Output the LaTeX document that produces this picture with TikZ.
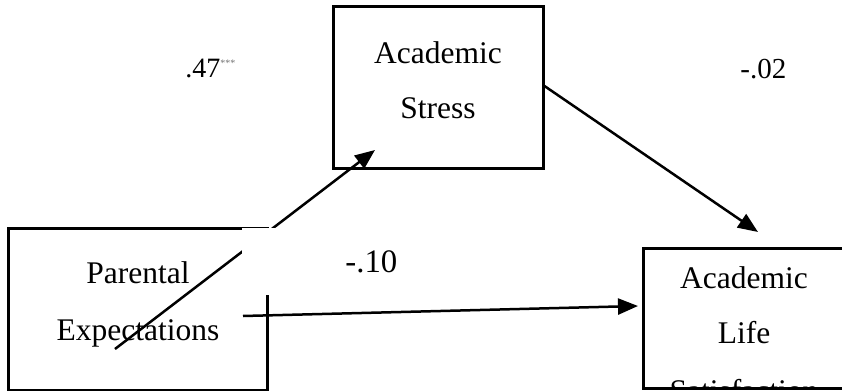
\documentclass[tikz,border=0pt]{standalone}
\usepackage{fontspec}
\setmainfont{Liberation Serif}
\usetikzlibrary{arrows.meta}
\begin{document}
\begin{tikzpicture}[x=0.5pt,y=-0.5pt,
  varbox/.style={draw=black, line width=1.5pt, inner sep=0pt, minimum width=#1},
  boxtext/.style={anchor=base, inner sep=0pt, font=\fontsize{15.75}{18}\selectfont},
  coef/.style={anchor=base west, inner sep=0pt},
  path/.style={draw=black, line width=1.25pt, -{Triangle[length=10pt,width=8pt]}}]
\clip (0,0) rectangle (842,391);
\node [varbox=129.5pt, minimum height=81pt] (pe) at (137.5,309) {};
\node [varbox=105pt, minimum height=81pt] (as) at (438,87) {};
\node [varbox=101pt, minimum height=70pt] (als) at (744,318) {};
\node [boxtext] (pe1) at (138,283) {Parental};
\node [boxtext] (pe2) at (138,340) {Expectations};
\node [boxtext] (as1) at (438,63) {Academic};
\node [boxtext] (as2) at (438,118) {Stress};
\node [boxtext] (als1) at (744,288) {Academic};
\node [boxtext] (als2) at (744,343) {Life};
\begin{scope}
\clip (644.5,249.5) rectangle (843,386.5);
\node [boxtext] (als3) at (744,401) {Satisfaction};
\end{scope}
\coordinate (pe-a) at (115,349);
\coordinate (as-a) at (375,150);
\coordinate (pe-b) at (243,316);
\coordinate (als-b) at (638,306);
\coordinate (as-c) at (543,85);
\coordinate (als-c) at (758,232);
\draw [path] (pe-a) -- (as-a);
\fill [white] (242,228.2) rectangle (300,295);
\draw [path] (pe-b) -- (als-b);
\draw [path] (as-c) -- (als-c);
\node [coef, font=\fontsize{14}{16}\selectfont] (c1) at (185,77) {.47\textsuperscript{\color{black!55}\tiny ***}};
\node [coef, font=\fontsize{14.5}{16}\selectfont] (c2) at (740,78) {-.02};
\node [coef, font=\fontsize{16.4}{18}\selectfont] (c3) at (345,272) {-.10};
\end{tikzpicture}
\end{document}
